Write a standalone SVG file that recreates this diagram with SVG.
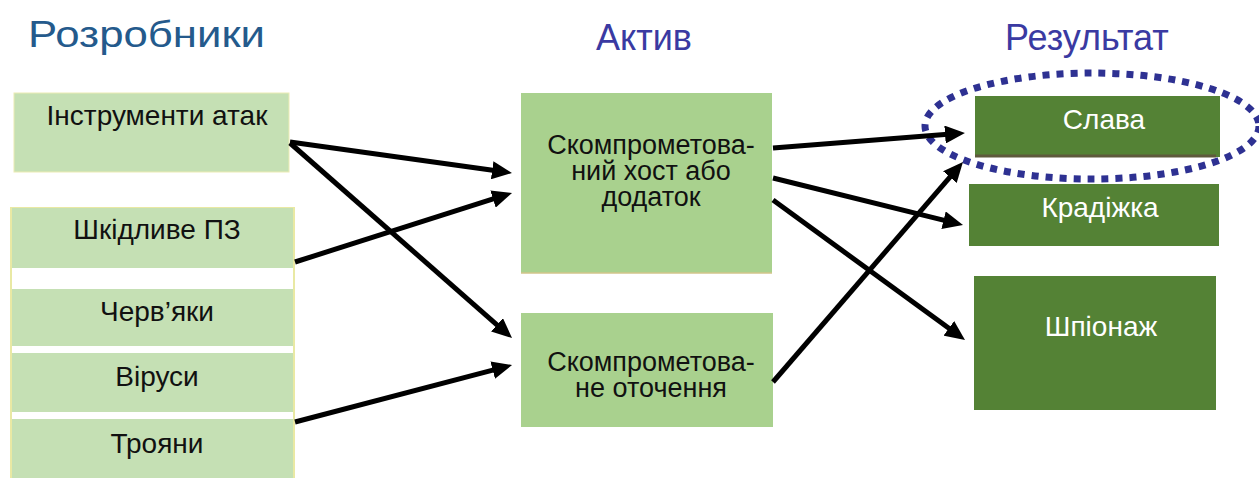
<svg xmlns="http://www.w3.org/2000/svg" width="1259" height="478" viewBox="0 0 1259 478">
<defs>
<style>
.title{font-family:"Liberation Sans",Arial,sans-serif;font-size:36px}
.t{font-family:"Liberation Sans",Arial,sans-serif;font-size:28px;fill:#111;text-anchor:middle}
.m{font-family:"Liberation Sans",Arial,sans-serif;font-size:27px;fill:#111;text-anchor:middle}
.w{font-family:"Liberation Sans",Arial,sans-serif;font-size:28px;fill:#fff;text-anchor:middle}
.lg{fill:#c5e0b4}
.mg{fill:#a9d18e}
.dg{fill:#548235}
.conn{stroke:#000;stroke-width:5;fill:none;marker-end:url(#ah)}
</style>
<marker id="ah" viewBox="0 0 20 18" refX="6" refY="9" markerWidth="20" markerHeight="18" markerUnits="userSpaceOnUse" orient="auto">
<path d="M0,0 L20,9 L0,18 z" fill="#000"/>
</marker>
</defs>
<rect width="1259" height="478" fill="#fff"/>

<g id="titles">
<text class="title" x="28" y="47" fill="#245a8c" font-size="42" textLength="237" lengthAdjust="spacingAndGlyphs">Розробники</text>
<text class="title" x="596" y="50" fill="#3a3aa2">Актив</text>
<text class="title" x="1005" y="50" fill="#3a3aa2">Результат</text>
</g>

<g id="n-tools">
<rect x="14" y="93" width="275" height="79" class="lg" stroke="#ececb4" stroke-width="1"/>
<text class="t" x="157" y="125">Інструменти атак</text>
</g>

<g id="n-malware-group">
<rect x="11" y="208" width="283" height="272" fill="#fff" stroke="#e9e9a4" stroke-width="2"/>
</g>
<g id="n-malware">
<rect x="12" y="208" width="281" height="60" class="lg"/>
<text class="t" x="157" y="239">Шкідливе ПЗ</text>
</g>
<g id="n-worms">
<rect x="12" y="289" width="281" height="57" class="lg"/>
<text class="t" x="157" y="321">Черв’яки</text>
</g>
<g id="n-viruses">
<rect x="12" y="353" width="281" height="59" class="lg"/>
<text class="t" x="157" y="386">Віруси</text>
</g>
<g id="n-trojans">
<rect x="12" y="419" width="281" height="60" class="lg"/>
<text class="t" x="157" y="453">Трояни</text>
</g>

<g id="n-host">
<rect x="521" y="93" width="251" height="180" class="mg"/>
<line x1="521" y1="273" x2="772" y2="273" stroke="#d2c58a" stroke-width="1.5"/>
<text class="m" x="651" y="154">Скомпрометова-</text>
<text class="m" x="651" y="180">ний хост або</text>
<text class="m" x="651" y="206">додаток</text>
</g>

<g id="n-env">
<rect x="521" y="313" width="252" height="114" class="mg"/>
<text class="m" x="651" y="371">Скомпрометова-</text>
<text class="m" x="651" y="397">не оточення</text>
</g>

<g id="n-fame">
<rect x="975" y="96" width="245" height="61" class="dg"/>
<line x1="975" y1="156" x2="1216" y2="156" stroke="#5e5a3c" stroke-width="3"/>
<text class="w" x="1104" y="129">Слава</text>
</g>

<g id="n-theft">
<rect x="969" y="184" width="250" height="62" class="dg"/>
<text class="w" x="1100" y="217">Крадіжка</text>
</g>

<g id="n-espionage">
<rect x="974" y="276" width="242" height="134" class="dg"/>
<text class="w" x="1101" y="336">Шпіонаж</text>
</g>

<g id="highlight">
<ellipse cx="1092" cy="126" rx="167" ry="53" fill="none" stroke="#2e3192" stroke-width="7" stroke-dasharray="7 7"/>
</g>

<g id="connectors">
<path class="conn" d="M290,142 L498.1,171.1"/>
<path class="conn" d="M290,143 L501.5,328.8"/>
<path class="conn" d="M295,262 L498.7,197.2"/>
<path class="conn" d="M295,422 L498.5,368.6"/>
<path class="conn" d="M773,148 L951,134.1"/>
<path class="conn" d="M773,178 L949.4,221.6"/>
<path class="conn" d="M773,200 L953.7,331.8"/>
<path class="conn" d="M773,382 L953.8,172.6"/>
</g>
</svg>
